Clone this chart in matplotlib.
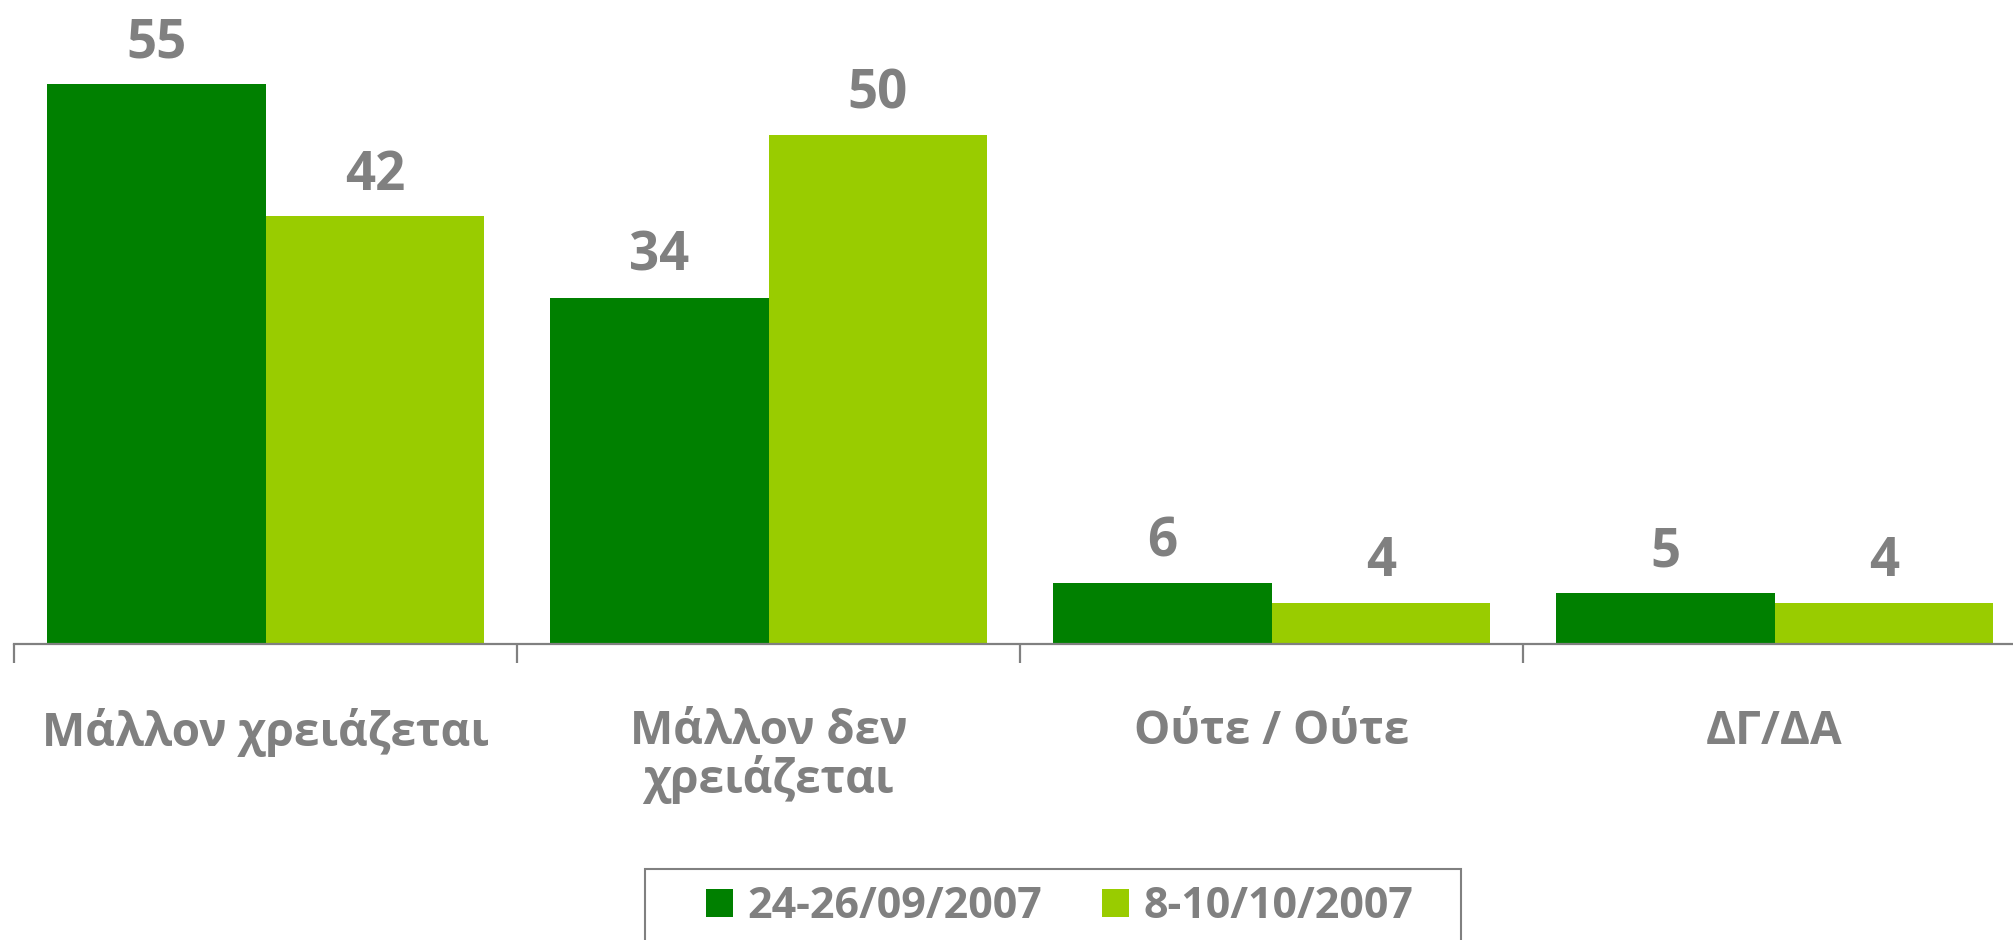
import matplotlib
matplotlib.use("Agg")
import matplotlib.pyplot as plt
from matplotlib.patches import Patch, Rectangle
import numpy as np

plt.rcParams['font.family'] = ['Open Sans', 'DejaVu Sans']

categories = ["Μάλλον χρειάζεται", "Μάλλον δεν\nχρειάζεται", "Ούτε / Ούτε", "ΔΓ/ΔΑ"]
series_names = ["24-26/09/2007", "8-10/10/2007"]
values_sep = [55, 34, 6, 5]
values_oct = [42, 50, 4, 4]
colors = ["#008000", "#99CC00"]
gray = "#808080"

W, H = 2013, 940
fig = plt.figure(figsize=(W / 100, H / 100), dpi=100)
ax_left = 14 / W
ax_bottom = (H - 644) / H
ax = fig.add_axes([ax_left, ax_bottom, 2012 / W, 644 / H])

x = np.arange(len(categories))
bw = 0.435
b1 = ax.bar(x - bw / 2, values_sep, bw, color=colors[0], label=series_names[0])
b2 = ax.bar(x + bw / 2, values_oct, bw, color=colors[1], label=series_names[1])

for bars in (b1, b2):
    ax.bar_label(bars, padding=10, color=gray, fontsize=38, fontweight='bold')

ax.set_xlim(-0.5, len(categories) - 0.5)
ax.set_ylim(0, 644 / 10.18)

for s in ['top', 'right', 'left']:
    ax.spines[s].set_visible(False)
ax.spines['bottom'].set_color(gray)
ax.spines['bottom'].set_linewidth(1.6)
ax.set_yticks([])

ax.set_xticks(x)
ax.set_xticklabels(categories, fontsize=33, fontweight='bold', color=gray, linespacing=1.0)
ax.tick_params(axis='x', which='major', length=0, pad=46)
ax.set_xticks(np.arange(len(categories) + 1) - 0.5, minor=True)
ax.tick_params(axis='x', which='minor', length=14, width=1.6, color=gray)

handles = [Patch(facecolor=c, edgecolor='none') for c in colors]
leg = fig.legend(handles, series_names, loc='center left',
                 bbox_to_anchor=(706 / W, 1 - 907 / H), ncol=2, frameon=False,
                 prop={'size': 31, 'weight': 'bold'}, borderpad=0, borderaxespad=0,
                 handlelength=0.62, handleheight=0.62, handletextpad=0.34,
                 columnspacing=1.4)
for t in leg.get_texts():
    t.set_color(gray)

fig.patches.append(Rectangle((645 / W, -0.05), 816 / W, (H - 869) / H + 0.05,
                             transform=fig.transFigure, facecolor='none',
                             edgecolor=gray, linewidth=1.5))

fig.savefig("out.png", dpi=100)
